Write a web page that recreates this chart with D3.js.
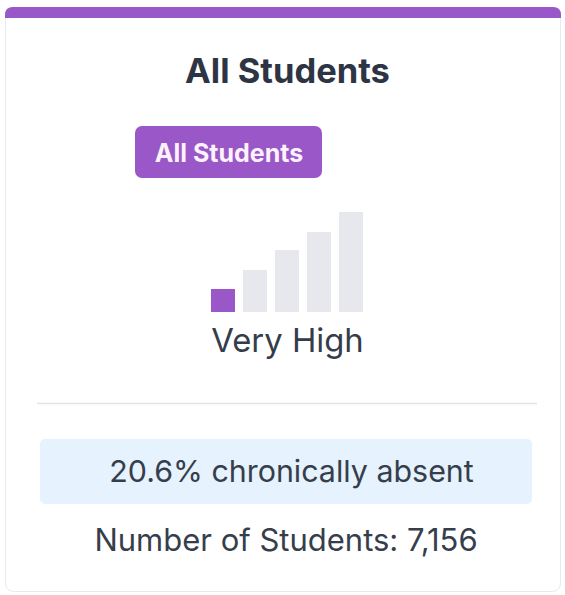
<!DOCTYPE html>
<html>
<head>
<meta charset="utf-8">
<script src="https://cdn.jsdelivr.net/npm/d3@7"></script>
<style>
  html, body { margin: 0; padding: 0; background: #ffffff; }
  svg { display: block; font-family: Inter, "Noto Sans", sans-serif; }
</style>
</head>
<body>
<div id="d3-container"></div>
<script>
// card data
const groupName = "All Students";
const levels = ["Very High", "High", "Medium", "Low", "Very Low"];
const levelHeights = [23, 42, 62, 80, 100]; // bar heights, % of tallest
const activeLevel = "Very High";
const pctAbsent = 20.6;
const numStudents = 7156;

const W = 565, H = 595;
const purple = "#9a57c7";

let svg = d3.select('#d3-container')
  .append('svg')
  .attr('width', W)
  .attr('height', H);

// card body
svg.append("rect")
  .attr("x", 5.5).attr("y", 7.5)
  .attr("width", 555).attr("height", 584)
  .attr("rx", 8)
  .attr("fill", "#ffffff")
  .attr("stroke", "#e9e9ee");

// purple top strip, rounded on top only
const sx = 5, sy = 7, sw = 556, sh = 11, r = 8;
svg.append("path")
  .attr("d", `M${sx},${sy + sh} L${sx},${sy + r} Q${sx},${sy} ${sx + r},${sy} L${sx + sw - r},${sy} Q${sx + sw},${sy} ${sx + sw},${sy + r} L${sx + sw},${sy + sh} Z`)
  .attr("fill", purple);

// title
svg.append("text")
  .attr("x", 287.5).attr("y", 83)
  .attr("text-anchor", "middle")
  .attr("font-size", 34.5).attr("font-weight", 700)
  .attr("fill", "#2d3444")
  .text(groupName);

// badge
svg.append("rect")
  .attr("x", 135).attr("y", 126)
  .attr("width", 187).attr("height", 52)
  .attr("rx", 7)
  .attr("fill", purple);
svg.append("text")
  .attr("x", 229).attr("y", 161.5)
  .attr("text-anchor", "middle")
  .attr("font-size", 25).attr("font-weight", 700)
  .attr("fill", "#fbf2fb")
  .text(groupName);

// level bars
const x = d3.scaleBand()
  .domain(levels)
  .range([211, 363])
  .paddingInner(0.25)
  .paddingOuter(0);

const y = d3.scaleLinear()
  .domain([0, 100])
  .range([312, 212]);

svg.append("g")
  .selectAll(".bar")
  .data(levels)
  .join("rect")
  .attr("class", "bar")
  .attr("x", d => x(d))
  .attr("y", (d, i) => y(levelHeights[i]))
  .attr("width", x.bandwidth())
  .attr("height", (d, i) => y(0) - y(levelHeights[i]))
  .attr("fill", d => d === activeLevel ? purple : "#e6e8ee");

// level label
svg.append("text")
  .attr("x", 287.5).attr("y", 352)
  .attr("text-anchor", "middle")
  .attr("font-size", 32.8)
  .attr("fill", "#353c4a")
  .text(activeLevel);

// divider
svg.append("line")
  .attr("x1", 37).attr("x2", 537)
  .attr("y1", 403.5).attr("y2", 403.5)
  .attr("stroke", "#e3e4e8")
  .attr("stroke-width", 1.5);

// absence box
svg.append("rect")
  .attr("x", 40).attr("y", 439)
  .attr("width", 492).attr("height", 65)
  .attr("rx", 5)
  .attr("fill", "#e6f2fd");
svg.append("text")
  .attr("x", 291.5).attr("y", 482)
  .attr("text-anchor", "middle")
  .attr("font-size", 30.4)
  .attr("fill", "#363e4c")
  .text(`${pctAbsent}% chronically absent`);

// student count
svg.append("text")
  .attr("x", 286).attr("y", 551)
  .attr("text-anchor", "middle")
  .attr("font-size", 31)
  .attr("fill", "#363e4c")
  .text(`Number of Students: ${d3.format(",")(numStudents)}`);
</script>
</body>
</html>
